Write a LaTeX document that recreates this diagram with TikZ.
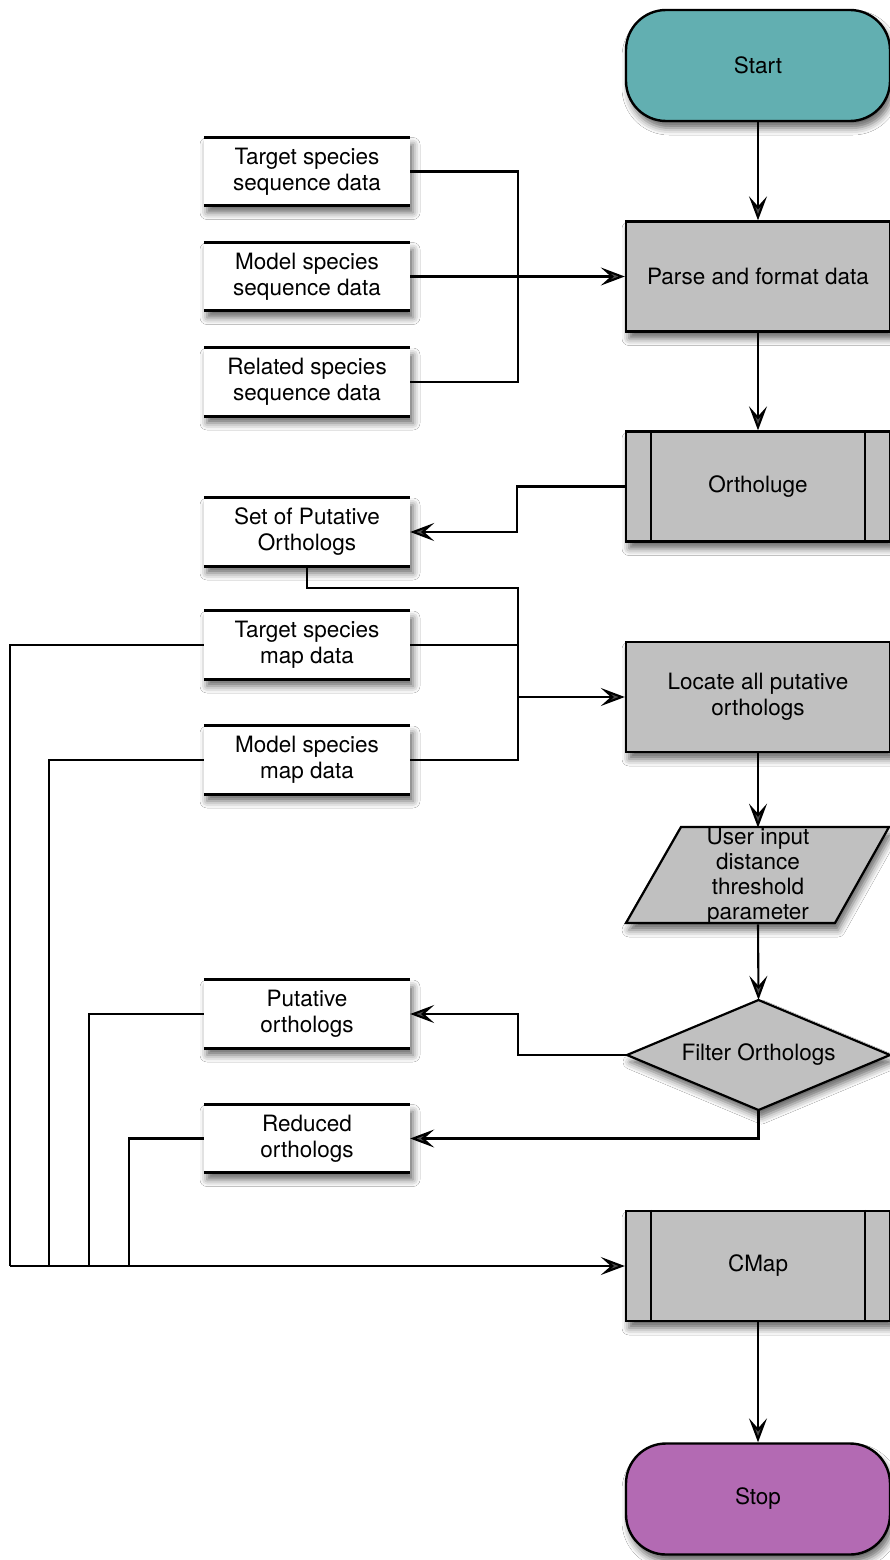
\documentclass[tikz,border=0pt]{standalone}
\usepackage{fontspec}
\setmainfont{TeX Gyre Heros}
\usetikzlibrary{arrows.meta,shapes.geometric,shadows.blur}
\definecolor{startc}{HTML}{62AFB1}
\definecolor{stopc}{HTML}{B36AB3}
\definecolor{procc}{HTML}{C0C0C0}
\begin{document}
\begin{tikzpicture}[x=1pt,y=-1pt,
  every node/.style={font=\fontsize{22.5}{26}\selectfont, align=center, inner sep=0pt},
  shad/.style={blur shadow={shadow xshift=3pt, shadow yshift=-7pt, shadow blur radius=7pt, shadow opacity=60}},
  term/.style={draw, line width=2.4pt, rounded corners=40pt, minimum width=264pt, minimum height=111pt, shad},
  proc/.style={draw, fill=procc, line width=2.4pt, minimum width=264pt, minimum height=110pt, shad},
  datab/.style={fill=white, minimum width=206pt, minimum height=68pt, shad},
  conn/.style={line width=2.1pt},
  arr/.style={conn, -{Stealth[length=24pt,width=18pt,inset=10pt]}},
]
\useasboundingbox (0,0) rectangle (890,1560);
\fill[white] (0,0) rectangle (890,1560);

% main column
\node[term, fill=startc] (start) at (758,65.5) {Start};
\node[proc] (parse) at (758,276.5) {Parse and format data};
\node[proc] (orth) at (758,486.5) {Ortholuge};
\node[proc] (loc) at (758,697) {Locate all putative\\orthologs};
\filldraw[fill=procc, line width=2.2pt, shad] (626,923) -- (681,827) -- (889,827) -- (835,923) -- cycle;
\node[minimum height=96pt, minimum width=150pt, font=\fontsize{22.5}{25}\selectfont] (uin) at (758,876) {User input\\distance\\threshold\\parameter};
\filldraw[fill=procc, line width=2.2pt, shad] (627,1055) -- (758.5,1000) -- (890,1055) -- (758.5,1110) -- cycle;
\node[minimum width=263pt, minimum height=110pt] (filt) at (758.5,1055) {Filter Orthologs};
\node[proc] (cmap) at (758,1266) {CMap};
\node[term, fill=stopc] (stop) at (758,1499) {Stop};

\foreach \n in {orth,cmap}
  \draw[line width=2.2pt] ([xshift=26pt]\n.north west) -- ([xshift=26pt]\n.south west)
                        ([xshift=-26pt]\n.north east) -- ([xshift=-26pt]\n.south east);

% data boxes
\node[datab] (tseq) at (307,171.5) {Target species\\sequence data};
\node[datab] (mseq) at (307,276.5) {Model species\\sequence data};
\node[datab] (rseq) at (307,382) {Related species\\sequence data};
\node[datab] (set) at (307,532) {Set of Putative\\Orthologs};
\node[datab] (tmap) at (307,645) {Target species\\map data};
\node[datab] (mmap) at (307,760) {Model species\\map data};
\node[datab] (puta) at (307,1014) {Putative\\orthologs};
\node[datab] (red) at (307,1138.5) {Reduced\\orthologs};

\foreach \n in {tseq,mseq,rseq,set,tmap,mmap,puta,red}
  \draw[line width=2.8pt] (\n.north west) -- (\n.north east) (\n.south west) -- (\n.south east);

% junction coordinates
\coordinate (j1) at (518,276.5);
\coordinate (j3) at (518,697);
\coordinate (b1) at (10,1266);
\coordinate (b2) at (49,1266);
\coordinate (b3) at (89,1266);
\coordinate (b4) at (129,1266);

% connectors
\draw[arr] (start.south) -- (parse.north);
\draw[conn] (tseq.east) -| (j1);
\draw[conn] (rseq.east) -| (j1);
\draw[arr] (mseq.east) -- (parse.west);
\draw[arr] (parse.south) -- (orth.north);
\draw[arr] (orth.west) -- ++(-108,0) |- (set.east);
\draw[conn] (set.south) -- ++(0,22) -| (j3);
\draw[conn] (tmap.east) -| (j3);
\draw[conn] (mmap.east) -| (j3);
\draw[arr] (j3) -- (loc.west);
\draw[arr] (loc.south) -- (uin.north);
\draw[arr] (uin.south) -- (filt.north);
\draw[arr] (filt.west) -- ++(-109,0) |- (puta.east);
\draw[arr] (filt.south) |- (red.east);
\draw[conn] (tmap.west) -| (b1);
\draw[conn] (mmap.west) -| (b2);
\draw[conn] (puta.west) -| (b3);
\draw[conn] (red.west) -| (b4);
\draw[arr] (b1) -- (cmap.west);
\draw[arr] (cmap.south) -- (stop.north);
\end{tikzpicture}
\end{document}
